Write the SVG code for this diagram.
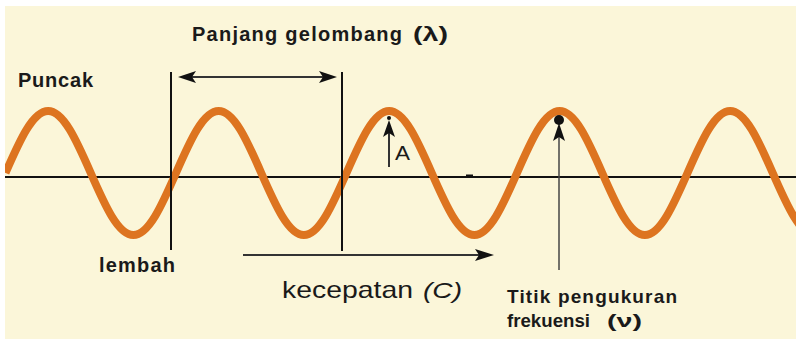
<svg xmlns="http://www.w3.org/2000/svg" width="796" height="343" viewBox="0 0 796 343">
  <defs>
    <style>
      .lbl { font-family: "Liberation Sans", Arial, sans-serif; fill: #1a1a1a; }
      .b { font-weight: bold; }
      .line { stroke: #111; stroke-width: 2; fill: none; }
      .thin { stroke: #333; stroke-width: 2; fill: none; }
      .wave { stroke: #DD7420; stroke-width: 8; fill: none; stroke-linecap: butt; }
      .head { fill: #111; stroke: none; }
    </style>
    <clipPath id="frame"><rect x="5" y="6" width="791" height="333"/></clipPath>
  </defs>

  <g id="background">
    <rect x="0" y="0" width="796" height="343" fill="#ffffff"/>
    <rect x="5" y="6" width="791" height="333" fill="#FBF6D9"/>
  </g>

  <g id="axis">
    <line class="line" x1="5" y1="177" x2="796" y2="177"/>
    <rect x="466" y="174.5" width="7" height="2" fill="#111"/>
  </g>

  <g id="wave" clip-path="url(#frame)">
    <path class="wave" d="M5.5,173
      c14.25,-32.56 27.36,-62 42.625,-62 c15.265,0 28.375,29.44 42.625,62 c14.25,32.56 27.36,62 42.625,62 c15.265,0 28.375,-29.44 42.625,-62
      c14.25,-32.56 27.36,-62 42.625,-62 c15.265,0 28.375,29.44 42.625,62 c14.25,32.56 27.36,62 42.625,62 c15.265,0 28.375,-29.44 42.625,-62
      c14.25,-32.56 27.36,-62 42.625,-62 c15.265,0 28.375,29.44 42.625,62 c14.25,32.56 27.36,62 42.625,62 c15.265,0 28.375,-29.44 42.625,-62
      c14.25,-32.56 27.36,-62 42.625,-62 c15.265,0 28.375,29.44 42.625,62 c14.25,32.56 27.36,62 42.625,62 c15.265,0 28.375,-29.44 42.625,-62
      c14.25,-32.56 27.36,-62 42.625,-62 c15.265,0 28.375,29.44 42.625,62 c14.25,32.56 27.36,62 42.625,62 c15.265,0 28.375,-29.44 42.625,-62"/>
  </g>

  <g id="connectors">
    <!-- wavelength markers -->
    <line class="line" x1="171" y1="72" x2="171" y2="250"/>
    <line class="line" x1="342" y1="72" x2="342" y2="251"/>
    <line class="thin" x1="190" y1="77" x2="325" y2="77"/>
    <polygon class="head" points="178,77 196,71 192,77 196,83"/>
    <polygon class="head" points="337,77 319,71 323,77 319,83"/>
    <!-- velocity arrow -->
    <line class="thin" x1="243" y1="255" x2="480" y2="255"/>
    <polygon class="head" points="494,255 475,249 479,255 475,261"/>
    <!-- amplitude arrow -->
    <line stroke="#333" stroke-width="2" x1="389" y1="133" x2="389" y2="167"/>
    <circle class="head" cx="389" cy="118" r="2"/>
    <polygon class="head" points="389,120 383,137 389,133 395,137"/>
    <!-- frequency measurement point -->
    <line stroke="#444" stroke-width="1.5" x1="559" y1="136" x2="559" y2="270"/>
    <circle class="head" cx="559" cy="120" r="5"/>
    <polygon class="head" points="559,123 553,141 559,137 565,141"/>
  </g>

  <g id="label-puncak">
    <text class="lbl b" x="18" y="87" font-size="20" textLength="75" lengthAdjust="spacing">Puncak</text>
  </g>
  <g id="label-panjang">
    <text class="lbl b" x="192" y="41" font-size="20" textLength="210" lengthAdjust="spacing">Panjang gelombang</text>
    <text class="lbl b" x="413" y="41" font-size="20" textLength="35" lengthAdjust="spacingAndGlyphs">(λ)</text>
  </g>
  <g id="label-lembah">
    <text class="lbl b" x="99" y="272" font-size="20" textLength="76" lengthAdjust="spacing">lembah</text>
  </g>
  <g id="label-kecepatan">
    <text class="lbl" x="282" y="298" font-size="24" textLength="131" lengthAdjust="spacingAndGlyphs">kecepatan</text>
    <text class="lbl" x="423" y="298" font-size="22" font-style="italic" textLength="39" lengthAdjust="spacingAndGlyphs">(C)</text>
  </g>
  <g id="label-A">
    <text class="lbl" x="395" y="160" font-size="21" textLength="15" lengthAdjust="spacingAndGlyphs">A</text>
  </g>
  <g id="label-titik">
    <text class="lbl b" x="507" y="303" font-size="19" textLength="170" lengthAdjust="spacing">Titik pengukuran</text>
    <text class="lbl b" x="507" y="327" font-size="19" textLength="83" lengthAdjust="spacingAndGlyphs">frekuensi</text>
    <text class="lbl b" x="607" y="327" font-size="19" textLength="35" lengthAdjust="spacingAndGlyphs">(ν)</text>
  </g>
</svg>
